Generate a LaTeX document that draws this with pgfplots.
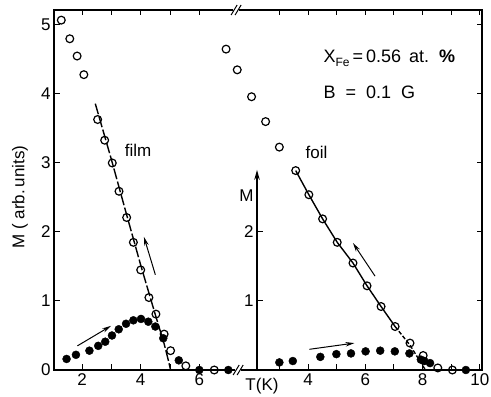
\documentclass[border=0pt]{standalone}
\usepackage{pgfplots}
\pgfplotsset{compat=1.18}
\usepackage{fontspec}
\setmainfont{Liberation Sans}
\usetikzlibrary{arrows.meta}

\pgfplotsset{
  common/.style={
    scale only axis, width=428pt, height=360pt,
    at={(54pt,27pt)}, anchor=south west,
    ymin=0, ymax=5.217, clip=false,
    tick align=inside, major tick length=5.5pt,
    tick style={black, line width=1pt},
    font=\fontsize{17}{19}\selectfont,
    /pgf/number format/assume math mode=true,
  },
  opn/.style={only marks, mark=o, mark size=3.9pt, mark options={fill=white, line width=1.2pt}},
  fil/.style={only marks, mark=*, mark size=4pt, mark options={fill=black}},
}

\begin{document}
\begin{tikzpicture}
\useasboundingbox (0pt,0pt) rectangle (491pt,397pt);

% ---------------- film (left) axis, also draws the frame ----------------
\begin{axis}[common,
  xmin=1.041, xmax=15.648,
  xtick={2,3,4,5,6}, xticklabels={2,,4,,6},
  xtick pos=both, xticklabel pos=bottom,
  ytick={0,1,2,3,4,5}, ytick pos=both, yticklabel pos=left,
  axis line style={line width=1.3pt},
]
% fit line
\addplot[black, line width=1.4pt, dash pattern=on 11pt off 2.5pt] coordinates {
 (2.45,3.86) (3.0,3.05) (3.5,2.28) (4.0,1.52) (4.5,0.80) (4.8,0.38) (4.95,0.13) (5.02,0)};
% open circles (film)
\addplot[opn] coordinates {
 (1.29,5.07) (1.58,4.80) (1.83,4.55) (2.06,4.28) (2.53,3.63) (2.77,3.33) (3.03,3.00)
 (3.26,2.59) (3.52,2.21) (3.75,1.85) (4.00,1.45) (4.28,1.05) (4.52,0.81) (4.80,0.52)
 (5.02,0.28) (5.54,0.06) (6.51,0.0)};
% filled circles (film)
\addplot[fil] coordinates {
 (1.47,0.16) (1.79,0.22) (2.25,0.28) (2.55,0.35) (2.79,0.41) (3.02,0.50) (3.25,0.59)
 (3.50,0.67) (3.75,0.72) (4.01,0.74) (4.26,0.70) (4.50,0.63) (4.77,0.46) (5.30,0.14)
 (6.00,0.0) (6.99,0.0)};
% arrows
\draw[line width=1pt, -{Stealth[length=9pt,width=4.5pt]}] (axis cs:4.50,1.38) -- (axis cs:4.11,1.93);
\draw[line width=1pt, -{Stealth[length=9pt,width=4.5pt]}] (axis cs:1.84,0.35) -- (axis cs:2.99,0.64);
\node at (axis cs:3.91,3.19) {film};
% break marks
\fill[white] (axis cs:7.29,5.217) ++(-4pt,-2pt) rectangle ++(6pt,4pt);
\draw[line width=1pt] (axis cs:7.29,5.217) ++(-6pt,-5pt) -- ++(6pt,10pt);
\draw[line width=1pt] (axis cs:7.29,5.217) ++(-2pt,-5pt) -- ++(6pt,10pt);
\fill[white] (axis cs:7.36,0) ++(-4pt,-2pt) rectangle ++(6pt,4pt);
\draw[line width=1pt] (axis cs:7.36,0) ++(-6pt,-5pt) -- ++(6pt,10pt);
\draw[line width=1pt] (axis cs:7.36,0) ++(-2pt,-5pt) -- ++(6pt,10pt);
\end{axis}

% ---------------- foil (right) axis ----------------
\begin{axis}[common,
  xmin=-4.866, xmax=10.073,
  axis line style={draw=none},
  ytick=\empty,
  xtick={3,4,5,6,7,8,9,10}, xticklabels={,4,,6,,8,,10},
  xtick pos=both, xticklabel pos=bottom,
]
% inner M axis
\draw[line width=1.3pt, -{Stealth[length=10pt,width=5.5pt]}] (axis cs:2.22,0) -- (axis cs:2.22,2.9);
\draw[line width=1pt] (axis cs:2.22,1) -- ++(6pt,0pt);
\draw[line width=1pt] (axis cs:2.22,2) -- ++(6pt,0pt);
\node[anchor=east] at (axis cs:2.22,1) {1};
\node[anchor=east] at (axis cs:2.22,2) {2};
\node[anchor=east] at (axis cs:2.22,2.52) {M};
% fit line
\addplot[black, line width=1.4pt] coordinates {
 (3.57,2.89) (4.03,2.54) (4.51,2.19) (5.02,1.85) (5.57,1.55) (6.06,1.22) (6.55,0.92) (7.04,0.63)};
\addplot[black, line width=1.4pt, dash pattern=on 4pt off 2pt] coordinates {
 (7.04,0.63) (7.56,0.36) (8.10,0)};
% open circles (foil)
\addplot[opn] coordinates {
 (1.14,4.65) (1.53,4.35) (2.03,3.96) (2.52,3.60) (3.00,3.23) (3.57,2.89) (4.03,2.54)
 (4.51,2.19) (5.02,1.85) (5.57,1.55) (6.06,1.22) (6.55,0.92) (7.04,0.63) (7.56,0.39)
 (8.02,0.21) (8.53,0.03) (9.04,0.0)};
% filled circles (foil)
\addplot[fil] coordinates {
 (3.00,0.11) (3.47,0.13) (4.43,0.19) (4.99,0.23) (5.50,0.24) (6.01,0.27) (6.52,0.28)
 (7.03,0.27) (7.54,0.24) (7.94,0.15) (8.06,0.13) (8.26,0.10) (9.51,0.0)};
% arrows
\draw[line width=1pt, -{Stealth[length=9pt,width=4.5pt]}] (axis cs:6.34,1.36) -- (axis cs:5.57,1.84);
\draw[line width=1pt, -{Stealth[length=9pt,width=4.5pt]}] (axis cs:4.05,0.30) -- (axis cs:5.62,0.39);
\node at (axis cs:4.30,3.16) {foil};
\end{axis}

% labels
\node[rotate=90, font=\fontsize{17}{19}\selectfont] at (20pt,200pt) {M ( arb.\,units)};
\node[anchor=base, font=\fontsize{17}{19}\selectfont] at (262pt,6pt) {T(K)};
\node[anchor=west, font=\fontsize{18}{20}\selectfont] at (320pt,339pt)
  {X\raisebox{-0.4ex}{\fontsize{12}{13}\selectfont Fe}\,=\,0.56\ \,at.\ \ \textbf{\%}};
\node[anchor=west, font=\fontsize{18}{20}\selectfont] at (320pt,305pt)
  {B\ \ =\ \ 0.1\ \ G};
\end{tikzpicture}
\end{document}
